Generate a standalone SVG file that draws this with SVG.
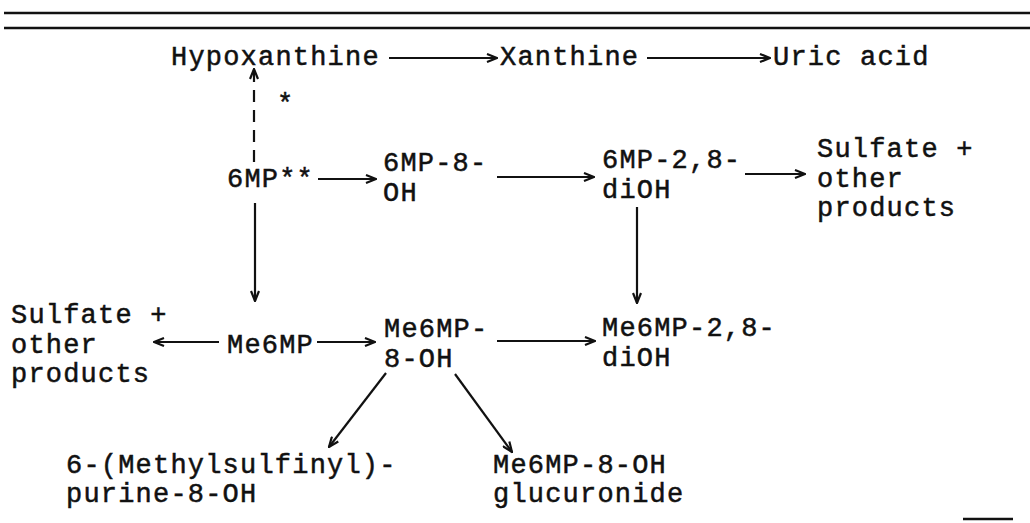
<svg xmlns="http://www.w3.org/2000/svg" width="1030" height="523" viewBox="0 0 1030 523">
<style>
text{font-family:"Liberation Mono","Courier New",monospace;font-size:27px;letter-spacing:1.2px;fill:#111;stroke:#111;stroke-width:0.5}
.ln{stroke:#111;stroke-width:2.2;fill:none}
.rule{stroke:#111;stroke-width:2.6}
.dash{stroke-dasharray:12 8}
</style>
<defs>
<marker id="ah" viewBox="0 0 12 10" refX="11" refY="5" markerWidth="12" markerHeight="10" markerUnits="userSpaceOnUse" orient="auto">
<path d="M1,1 L11,5 L1,9" fill="none" stroke="#111" stroke-width="2.2"/>
</marker>
</defs>
<rect width="1030" height="523" fill="#fff"/>
<line class="rule" x1="4" y1="13" x2="1030" y2="13"/>
<line class="rule" x1="4" y1="28" x2="1030" y2="28"/>
<g id="connectors">
<line class="ln" x1="389" y1="58" x2="497" y2="58" marker-end="url(#ah)"/>
<line class="ln" x1="647" y1="58" x2="770" y2="58" marker-end="url(#ah)"/>
<line class="ln dash" x1="254" y1="162" x2="254" y2="69" marker-end="url(#ah)"/>
<line class="ln" x1="318" y1="179" x2="376" y2="179" marker-end="url(#ah)"/>
<line class="ln" x1="497" y1="177" x2="594" y2="177" marker-end="url(#ah)"/>
<line class="ln" x1="745" y1="174" x2="805" y2="174" marker-end="url(#ah)"/>
<line class="ln" x1="255" y1="203" x2="255" y2="301" marker-end="url(#ah)"/>
<line class="ln" x1="637" y1="207" x2="637" y2="303" marker-end="url(#ah)"/>
<line class="ln" x1="219" y1="342" x2="154" y2="342" marker-end="url(#ah)"/>
<line class="ln" x1="317" y1="342" x2="375" y2="342" marker-end="url(#ah)"/>
<line class="ln" x1="497" y1="341" x2="595" y2="341" marker-end="url(#ah)"/>
<line class="ln" x1="386" y1="373" x2="329" y2="447" marker-end="url(#ah)"/>
<line class="ln" x1="455" y1="374" x2="512" y2="452" marker-end="url(#ah)"/>
</g>
<g id="hypoxanthine"><text x="171" y="65">Hypoxanthine</text></g>
<g id="xanthine"><text x="500" y="65">Xanthine</text></g>
<g id="uric-acid"><text x="773" y="65">Uric acid</text></g>
<g id="star"><text x="277" y="112">*</text></g>
<g id="mp6"><text x="227" y="187">6MP**</text></g>
<g id="mp6-8oh"><text x="383" y="171">6MP-8-</text><text x="383" y="201">OH</text></g>
<g id="mp6-28dioh"><text x="602" y="168">6MP-2,8-</text><text x="602" y="198">diOH</text></g>
<g id="sulfate-right"><text x="817" y="157">Sulfate +</text><text x="817" y="187">other</text><text x="817" y="216">products</text></g>
<g id="sulfate-left"><text x="11" y="323">Sulfate +</text><text x="11" y="353">other</text><text x="11" y="382">products</text></g>
<g id="me6mp"><text x="227" y="353">Me6MP</text></g>
<g id="me6mp-8oh"><text x="384" y="337">Me6MP-</text><text x="384" y="367">8-OH</text></g>
<g id="me6mp-28dioh"><text x="602" y="336">Me6MP-2,8-</text><text x="602" y="366">diOH</text></g>
<g id="methylsulfinyl"><text x="66" y="473">6-(Methylsulfinyl)-</text><text x="66" y="502">purine-8-OH</text></g>
<g id="glucuronide"><text x="493" y="473">Me6MP-8-OH</text><text x="493" y="502">glucuronide</text></g>
<line class="rule" x1="963" y1="519" x2="1013" y2="519" stroke-width="1.5"/>
</svg>
